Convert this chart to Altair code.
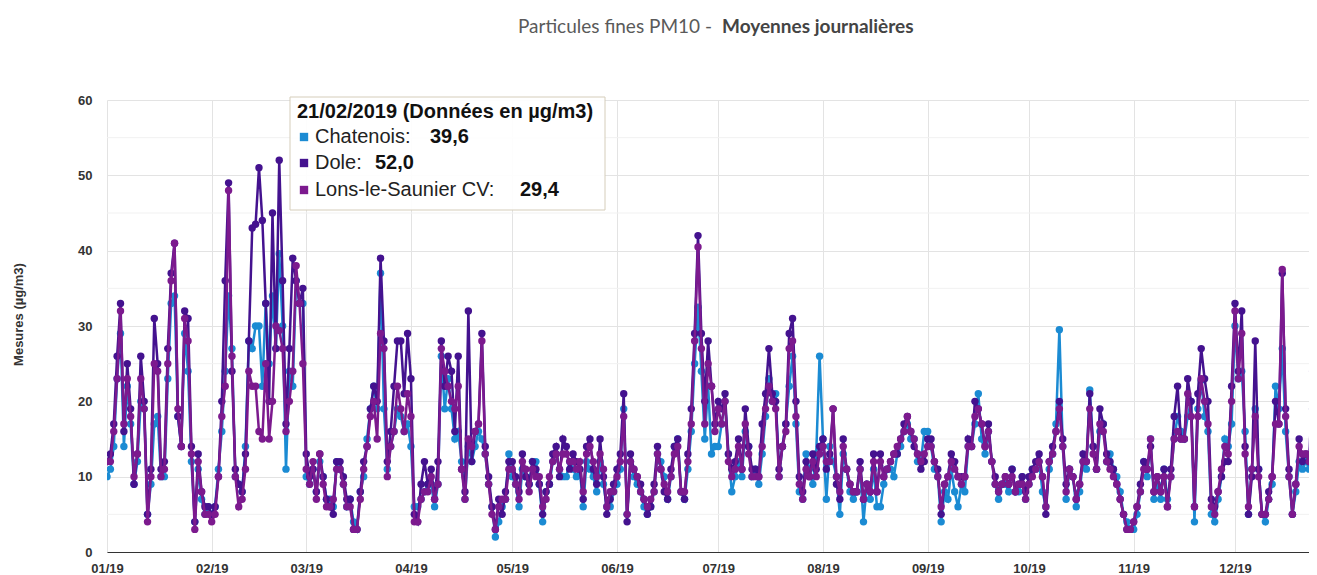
import altair as alt
import pandas as pd

# ---------------- data (daily means, µg/m3) ----------------
series_names = ["Chatenois", "Dole", "Lons-le-Saunier CV"]
series_colors = ["#1b8bd3", "#44128f", "#7c1a8e"]

chatenois = [
    # Jan
    10, 11, 14, 23, 29, 14, 22, 17, 9, 12, 20, 19, 5, 9, 17, 18, 10, 10, 23, 33, 34, 18, 14, 29, 24, 12, 4, 11, 7, 5, 6,
    # Feb
    5, 6, 11, 16, 24, 34, 27, 10, 9, 8, 14, 28, 27, 30, 30, 22, 33, 25, 34, 27, 39.6, 30, 11, 24, 22, 36, 33, 33,
    # Mar
    10, 9, 11, 8, 12, 10, 7, 7, 6, 12, 11, 9, 6, 7, 4, 3, 8, 10, 15, 19, 22, 19, 37, 19, 11, 14, 16, 19, 18, 16, 17,
    # Apr
    14, 6, 6, 7, 8, 9, 9, 6, 9, 26, 19, 23, 19, 15, 16, 12, 7, 14, 12, 14, 16, 15, 13, 9, 6, 2, 4, 6, 7, 13,
    # May
    10, 9, 6, 11, 10, 9, 12, 12, 9, 4, 8, 9, 12, 13, 11, 10, 10, 12, 11, 10, 11, 6, 12, 11, 10, 8, 12, 9, 6, 6, 8,
    # Jun
    9, 11, 19, 5, 12, 10, 9, 8, 6, 5, 6, 8, 13, 12, 10, 7, 10, 14, 15, 8, 7, 11, 16, 25, 32.5, 24, 15, 22, 13, 14,
    # Jul
    14, 17, 20, 13, 8, 10, 12, 10, 16, 14, 10, 11, 9, 13, 18, 23, 20, 21, 10, 14, 17, 22, 26, 17, 8, 7, 13, 11, 9, 13, 26,
    # Aug
    15, 7, 14, 12, 10, 5, 13, 11, 8, 7, 8, 11, 4, 9, 7, 11, 6, 6, 9, 11, 11, 10, 13, 14, 16, 17, 15, 15, 12, 12, 16,
    # Sep
    16, 14, 11, 10, 4, 8, 7, 11, 8, 6, 9, 8, 14, 14, 17, 21, 15, 13, 16, 12, 9, 7, 9, 9, 8, 11, 8, 8, 10, 7,
    # Oct
    9, 11, 11, 12, 8, 6, 11, 13, 17, 29.5, 14, 7, 11, 10, 6, 8, 12, 11, 21.5, 14, 11, 16, 17, 12, 13, 11, 10, 8, 5, 4, 3,
    # Nov
    3, 5, 8, 12, 10, 15, 7, 9, 7, 11, 7, 10, 15, 18, 16, 15, 18, 20, 4, 19, 22.8, 18, 16, 5, 4, 7, 10, 15, 14, 17,
    # Dec
    30, 23, 24, 16, 5, 11, 19, 11, 5, 4, 7, 9, 22, 19, 27, 16, 10, 5, 8, 12, 11, 12, 11, 19,
]

dole = [
    # Jan
    12, 13, 17, 26, 33, 16, 25, 19, 9, 13, 26, 20, 5, 11, 31, 25, 11, 12, 27, 37, 41, 18, 14, 32, 31, 14, 4, 13, 8, 6, 6,
    # Feb
    5, 6, 10, 20, 36, 49, 24, 11, 9, 8, 13, 28, 43, 43.5, 51, 44, 33, 20, 45, 27, 52.0, 36, 17, 27, 39, 36, 33, 35,
    # Mar
    13, 10, 11, 8, 13, 10, 7, 6, 5, 12, 12, 10, 7, 7, 3, 3, 8, 12, 14, 19, 22, 20, 39, 28, 12, 16, 22, 28, 28, 21, 29,
    # Apr
    23, 5, 4, 9, 12, 9, 11, 7, 12, 28, 22, 26, 24, 16, 26, 11, 8, 32, 12, 16, 17, 29, 14, 10, 6, 3, 7, 5, 8, 12,
    # May
    12, 10, 8, 13, 10, 9, 12, 11, 9, 5, 8, 9, 13, 14, 10, 15, 14, 11, 13, 12, 11, 7, 14, 15, 11, 9, 15, 10, 5, 7, 9,
    # Jun
    11, 13, 21, 4, 13, 11, 10, 9, 7, 5, 6, 9, 14, 11, 8, 7, 11, 14, 15, 8, 7, 13, 19, 29, 42, 29, 20, 28, 22, 17,
    # Jul
    20, 19, 21, 13, 11, 12, 15, 11, 19, 14, 11, 11, 10, 17, 21, 27, 21, 20, 11, 14, 17, 29, 31, 20, 10, 8, 12, 10, 13, 11, 14,
    # Aug
    15, 11, 13, 19, 9, 7, 15, 11, 9, 8, 8, 12, 7, 9, 8, 13, 8, 13, 10, 11, 12, 13, 13, 15, 17, 18, 16, 14, 13, 11, 12,
    # Sep
    15, 15, 12, 11, 5, 9, 10, 13, 12, 10, 10, 10, 15, 14, 20, 19, 17, 14, 17, 12, 10, 8, 9, 10, 9, 11, 8, 9, 10, 8,
    # Oct
    10, 11, 12, 13, 10, 5, 12, 14, 16, 20, 15, 9, 11, 10, 7, 9, 13, 12, 21, 14, 11, 19, 17, 13, 12, 11, 9, 7, 5, 3, 3,
    # Nov
    4, 6, 9, 12, 11, 14, 8, 10, 8, 11, 6, 11, 18, 22, 15, 15, 23, 20, 6, 21, 27, 23, 20, 7, 6, 8, 10, 12, 12, 22,
    # Dec
    33, 24, 32, 14, 5, 10, 28, 11, 5, 5, 8, 10, 20, 17, 37, 19, 11, 5, 9, 15, 12, 13, 12, 24,
]

lons = [
    # Jan
    12, 12, 16, 23, 32, 17, 23, 18, 10, 13, 23, 19, 4, 10, 25, 24, 10, 11, 25, 36, 41, 19, 14, 31, 28, 13, 3, 12, 8, 5, 5,
    # Feb
    4, 5, 10, 18, 22, 48, 26, 10, 6, 7, 11, 24, 22, 22, 16, 15, 25, 15, 20, 30, 29.4, 27, 16, 20, 24, 38, 33, 25,
    # Mar
    11, 9, 12, 7, 13, 9, 6, 6, 7, 11, 11, 9, 6, 6, 3, 3, 7, 11, 14, 18, 20, 15, 29, 27, 10, 14, 16, 22, 19, 16, 21,
    # Apr
    18, 4, 4, 7, 8, 8, 10, 7, 9, 27, 24, 22, 20, 19, 22, 11, 7, 15, 14, 16, 17, 28, 13, 9, 5, 3, 6, 7, 7, 11,
    # May
    11, 9, 7, 12, 11, 8, 11, 10, 10, 6, 7, 10, 12, 13, 11, 13, 13, 12, 12, 11, 12, 8, 13, 14, 12, 10, 13, 11, 6, 8, 8,
    # Jun
    10, 12, 18, 5, 12, 11, 10, 8, 7, 6, 7, 8, 13, 11, 9, 8, 10, 13, 14, 8, 8, 12, 17, 28, 40.5, 27, 17, 25, 22, 16,
    # Jul
    19, 17, 20, 12, 10, 11, 14, 11, 17, 13, 10, 10, 10, 14, 19, 22, 20, 19, 10, 14, 16, 27, 28, 18, 9, 7, 11, 10, 12, 10, 13,
    # Aug
    14, 12, 12, 19, 10, 8, 14, 11, 9, 8, 8, 11, 7, 9, 8, 12, 8, 12, 10, 11, 12, 13, 14, 15, 16, 18, 16, 15, 13, 12, 13,
    # Sep
    14, 14, 12, 10, 6, 9, 10, 12, 11, 10, 9, 10, 14, 14, 18, 19, 17, 14, 16, 12, 9, 8, 9, 10, 9, 10, 8, 9, 9, 7,
    # Oct
    9, 10, 11, 12, 10, 6, 12, 13, 16, 19, 14, 8, 11, 10, 7, 9, 12, 12, 19, 13, 11, 17, 16, 12, 11, 10, 9, 7, 5, 3, 3,
    # Nov
    4, 6, 8, 11, 11, 15, 8, 10, 8, 10, 6, 10, 15, 16, 15, 15, 21, 18, 6, 18, 23, 20, 17, 6, 5, 8, 11, 14, 13, 20,
    # Dec
    32, 23, 29, 13, 6, 11, 18, 10, 5, 5, 7, 10, 17, 17, 37.5, 18, 10, 5, 9, 14, 13, 13, 12, 19,
]

y_ticks = [0, 10, 20, 30, 40, 50, 60]
y_minor = [5, 15, 25, 35, 45, 55]
month_starts = list(range(1, 13))

title_normal = "Particules fines PM10 -"
title_bold = "Moyennes journalières"
y_title = "Mesures (µg/m3)"
tooltip_day = 21
tooltip_month = 2
tooltip_header = "21/02/2019 (Données en µg/m3)"

# ---------------- build table ----------------
n = min(len(chatenois), len(dole), len(lons))
dates = pd.date_range("2019-01-01", periods=n, freq="D")
rows = []
for name, vals in zip(series_names, [chatenois, dole, lons]):
    for d, v in zip(dates, vals[:n]):
        rows.append({"date": d.strftime("%Y-%m-%dT00:00:00"), "station": name, "value": v})
df = pd.DataFrame(rows)

FONT = "Liberation Sans"

x_enc = alt.X(
    "date:T",
    scale=alt.Scale(domain=[alt.DateTime(year=2019, month=1, date=1),
                            alt.DateTime(year=2019, month=12, date=22, hours=22)]),
    axis=alt.Axis(
        values=[alt.DateTime(year=2019, month=m, date=1) for m in month_starts],
        format="%m/%y", title=None, grid=True, gridColor="#e3e3e3", gridWidth=1,
        domainColor="#333333", domainWidth=1, ticks=False, labelPadding=10, labelFlush=False,
        labelFont=FONT, labelFontSize=13, labelFontWeight="bold", labelColor="#333333",
    ),
)
y_enc = alt.Y(
    "value:Q",
    scale=alt.Scale(domain=[0, 60], nice=False),
    axis=alt.Axis(
        values=y_ticks, title=y_title, grid=True, gridColor="#e3e3e3", domain=False, ticks=False,
        labelPadding=15, labelFont=FONT, labelFontSize=13, labelFontWeight="bold", labelColor="#333333",
        labelFlush=False, titleY=214,
        titleFont=FONT, titleFontSize=13, titleFontWeight="bold", titleColor="#333333", titlePadding=52,
    ),
)

minor = alt.Chart(pd.DataFrame({"value": y_minor})).mark_rule(color="#f1f1f1", strokeWidth=1).encode(y=y_enc)

layers = [minor]
for name, color in zip(series_names, series_colors):
    layers.append(
        alt.Chart(df).transform_filter(alt.datum.station == name)
        .mark_line(color=color, strokeWidth=2.5, clip=True,
                   point=alt.OverlayMarkDef(color=color, size=55, filled=True, opacity=1, clip=True))
        .encode(x=x_enc, y=y_enc)
    )

one = pd.DataFrame({"a": [0]})


def txt(text, x, y, size, weight="normal", color="#333333", align="left", font=FONT):
    return alt.Chart(one).mark_text(
        text=text, align=align, baseline="middle", font=font, fontSize=size,
        fontWeight=weight, color=color,
    ).encode(x=alt.value(x), y=alt.value(y))


# title (normal + bold parts)
layers.append(txt(title_normal, 605, -73, 19, "normal", "#5a5a5a", "right", "Lato"))
layers.append(txt(title_bold, 615, -73, 19, "bold", "#444444", "left", "Lato"))

# tooltip box
idx = (pd.Timestamp(2019, tooltip_month, tooltip_day) - pd.Timestamp(2019, 1, 1)).days
box = alt.Chart(one).mark_rect(fill="white", stroke="#d5cdb8", strokeWidth=1, opacity=0.96).encode(
    x=alt.value(183), x2=alt.value(498), y=alt.value(-3), y2=alt.value(110)
)
layers.append(box)
layers.append(txt(tooltip_header, 190, 12, 20, "bold", "#111111"))
row_y = [37, 63, 90]
value_x = [323, 268, 413]
for name, color, vals, ry, vx in zip(series_names, series_colors, [chatenois, dole, lons], row_y, value_x):
    layers.append(alt.Chart(one).mark_square(size=70, color=color, opacity=1).encode(
        x=alt.value(197), y=alt.value(ry)))
    layers.append(txt(name + ":", 208, ry, 20, "normal", "#222222"))
    layers.append(txt(f"{vals[idx]:.1f}".replace(".", ","), vx, ry, 20, "bold", "#111111"))

chart = alt.layer(*layers).properties(
    width=1202, height=452,
    autosize=alt.AutoSizeParams(type="none"),
    padding={"left": 99, "top": 92, "right": 0, "bottom": 22},
).configure_view(stroke=None)

chart.save("out.html", embed_options={"renderer": "svg", "actions": False})
